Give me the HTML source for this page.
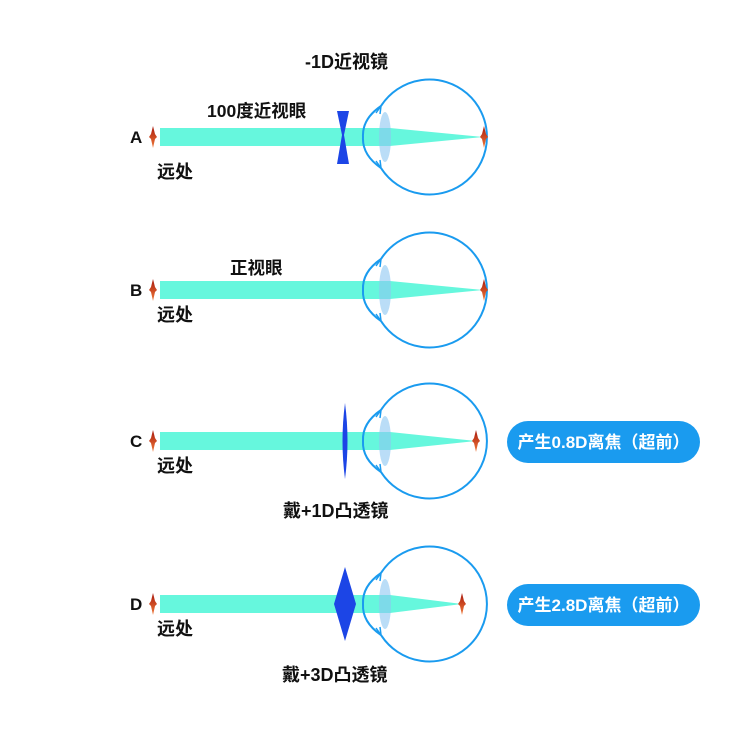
<!DOCTYPE html>
<html><head><meta charset="utf-8"><style>
html,body{margin:0;padding:0;background:#fff;}
svg text{font-family:"Liberation Sans","Noto Sans CJK SC",sans-serif;font-weight:bold;}
</style></head><body>
<svg width="730" height="741" viewBox="0 0 730 741" xmlns="http://www.w3.org/2000/svg">
<defs>
<linearGradient id="red" x1="0" y1="0" x2="0" y2="1">
<stop offset="0" stop-color="#a8180c"/><stop offset="1" stop-color="#f07a3a"/></linearGradient>
<g id="marker">
<path d="M0,-11 L2,-3 L4,0 L2,2 L0,11 L-2,2 L-4,0 L-2,-3 Z" fill="url(#red)"/>
</g>
<g id="eye">
<path d="M381,-31 A57.5,57.5 0 1 1 381,31" fill="none" stroke="#1a9bef" stroke-width="2"/>
<path d="M381,-31 Q362,-18 363,0 Q362,18 381,31" fill="none" stroke="#1a9bef" stroke-width="2"/>
<path d="M376,-24 L381,-31 L380,-23" fill="none" stroke="#1a9bef" stroke-width="1.5"/>
<path d="M376,24 L381,31 L380,23" fill="none" stroke="#1a9bef" stroke-width="1.5"/>
<ellipse cx="385" cy="0" rx="6" ry="25" fill="#8cc6f2" opacity="0.6"/>
</g>
</defs>

<!-- A -->
<g transform="translate(0,137)">
<path d="M160,-9 L390,-9 L483,0 L390,9 L160,9 Z" fill="#66f7dd"/>
<use href="#eye"/>
<use href="#marker" x="153"/>
<use href="#marker" x="484"/>
<path d="M337,-26 L349,-26 L344,-2 L349,27 L337,27 L342,-2 Z" fill="#1c45e6"/>
</g>
<text x="130" y="143" font-size="17" fill="#111">A</text>
<text x="157" y="178" font-size="18" fill="#111">远处</text>
<text x="207" y="117" font-size="17.5" fill="#111">100度近视眼</text>
<text x="305" y="68" font-size="18" fill="#111">-1D近视镜</text>

<!-- B -->
<g transform="translate(0,290)">
<path d="M160,-9 L390,-9 L483,0 L390,9 L160,9 Z" fill="#66f7dd"/>
<use href="#eye"/>
<use href="#marker" x="153"/>
<use href="#marker" x="484"/>
</g>
<text x="130" y="296" font-size="17" fill="#111">B</text>
<text x="157" y="321" font-size="18" fill="#111">远处</text>
<text x="230" y="274" font-size="17.5" fill="#111">正视眼</text>

<!-- C -->
<g transform="translate(0,441)">
<path d="M160,-9 L390,-9 L476,0 L390,9 L160,9 Z" fill="#66f7dd"/>
<use href="#eye"/>
<use href="#marker" x="153"/>
<use href="#marker" x="476"/>
<path d="M345,-38 Q350,0 345,38 Q340,0 345,-38 Z" fill="#1c45e6"/>
</g>
<text x="130" y="447" font-size="17" fill="#111">C</text>
<text x="157" y="472" font-size="18" fill="#111">远处</text>
<text x="283" y="517" font-size="18" fill="#111">戴+1D凸透镜</text>
<rect x="507" y="421" width="193" height="42" rx="21" fill="#1a9bef"/>
<text x="603.5" y="448" font-size="17" fill="#fff" text-anchor="middle">产生0.8D离焦（超前）</text>

<!-- D -->
<g transform="translate(0,604)">
<path d="M160,-9 L390,-9 L462,0 L390,9 L160,9 Z" fill="#66f7dd"/>
<use href="#eye"/>
<use href="#marker" x="153"/>
<use href="#marker" x="462"/>
<path d="M345,-37 L356,0 L345,37 L334,0 Z" fill="#1c45e6"/>
</g>
<text x="130" y="610" font-size="17" fill="#111">D</text>
<text x="157" y="635" font-size="18" fill="#111">远处</text>
<text x="282" y="681" font-size="18" fill="#111">戴+3D凸透镜</text>
<rect x="507" y="584" width="193" height="42" rx="21" fill="#1a9bef"/>
<text x="603.5" y="611" font-size="17" fill="#fff" text-anchor="middle">产生2.8D离焦（超前）</text>
</svg>
</body></html>
